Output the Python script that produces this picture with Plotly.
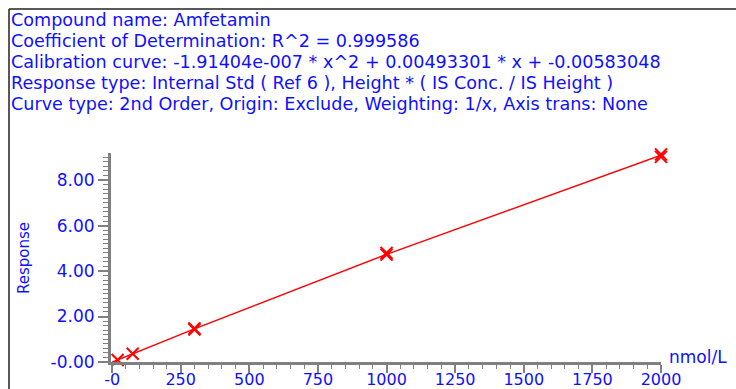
import plotly.graph_objects as go

# Data
conc = [20, 75, 300, 300, 1000, 1000, 2000, 2000]
resp = [0.09, 0.36, 1.43, 1.48, 4.72, 4.80, 9.02, 9.13]
fit_x = [0, 20, 75, 300, 1000, 2000]
fit_y = [-0.006, 0.093, 0.364, 1.456, 4.733, 9.094]

x_tickvals = [0, 250, 500, 750, 1000, 1250, 1500, 1750, 2000]
x_ticktext = ["-0", "250", "500", "750", "1000", "1250", "1500", "1750", "2000"]
y_tickvals = [0, 2, 4, 6, 8]
y_ticktext = ["-0.00", "2.00", "4.00", "6.00", "8.00"]

header_lines = [
    "Compound name: Amfetamin",
    "Coefficient of Determination: R^2 = 0.999586",
    "Calibration curve: -1.91404e-007 * x^2 + 0.00493301 * x + -0.00583048",
    "Response type: Internal Std ( Ref 6 ), Height * ( IS Conc. / IS Height )",
    "Curve type: 2nd Order, Origin: Exclude, Weighting: 1/x, Axis trans: None",
]

W, H = 736, 389
L, R, T, B = 111, 75, 153, 27
pw, ph = W - L - R, H - T - B

def px(x):
    return (x - L) / pw

def py(y):
    return (H - B - y) / ph

BLUE = "#1010ff"
FONT = "DejaVu Sans, Verdana, sans-serif"

fig = go.Figure()
fig.add_trace(go.Scatter(x=fit_x, y=fit_y, mode="lines", cliponaxis=False,
                         line=dict(color="red", width=1.5), hoverinfo="skip"))
fig.add_trace(go.Scatter(x=conc, y=resp, mode="markers", cliponaxis=False,
                         marker=dict(symbol="x-thin", size=12, color="red",
                                     line=dict(color="red", width=2))))

annotations = []
for i, t in enumerate(header_lines):
    annotations.append(dict(text=t, xref="paper", yref="paper", x=px(9), y=py(20 + 21 * i),
                            xanchor="left", yanchor="middle", showarrow=False,
                            font=dict(family=FONT, size=17.6, color=BLUE)))
annotations.append(dict(text="nmol/L", xref="paper", yref="paper", x=px(667), y=py(357),
                        xanchor="left", yanchor="middle", showarrow=False,
                        font=dict(family=FONT, size=17, color=BLUE)))
annotations.append(dict(text="Response", xref="paper", yref="paper", x=px(24), y=py(258),
                        xanchor="center", yanchor="middle", showarrow=False, textangle=-90,
                        font=dict(family=FONT, size=15, color=BLUE)))

shapes = [
    dict(type="line", xref="paper", yref="paper", x0=px(9), x1=px(W + 5), y0=py(9), y1=py(9),
         line=dict(color="#202020", width=1.5)),
    dict(type="line", xref="paper", yref="paper", x0=px(9), x1=px(9), y0=py(9), y1=py(H + 5),
         line=dict(color="#202020", width=1.5)),
]

axis_common = dict(
    showgrid=False, zeroline=False, showline=True, linecolor="#808080", linewidth=3,
    ticks="outside", tickwidth=2, tickcolor="#808080", automargin=False,
)

fig.update_layout(
    width=W, height=H,
    margin=dict(l=L, r=R, t=T, b=B),
    paper_bgcolor="white", plot_bgcolor="white",
    showlegend=False,
    annotations=annotations,
    shapes=shapes,
    xaxis=dict(range=[-4, 2000], tickvals=x_tickvals, ticktext=x_ticktext,
               ticklen=8, ticklabelstandoff=-7,
               tickfont=dict(family=FONT, size=16, color=BLUE),
               minor=dict(ticks="outside", ticklen=4, tickwidth=1, tickcolor="#808080", dtick=50),
               **axis_common),
    yaxis=dict(range=[0, 9.19], tickvals=y_tickvals, ticktext=y_ticktext,
               ticklen=10,
               tickfont=dict(family=FONT, size=17, color=BLUE),
               minor=dict(ticks="outside", ticklen=5, tickwidth=1, tickcolor="#808080", dtick=0.2),
               **axis_common),
)

fig.write_html("out.html")
